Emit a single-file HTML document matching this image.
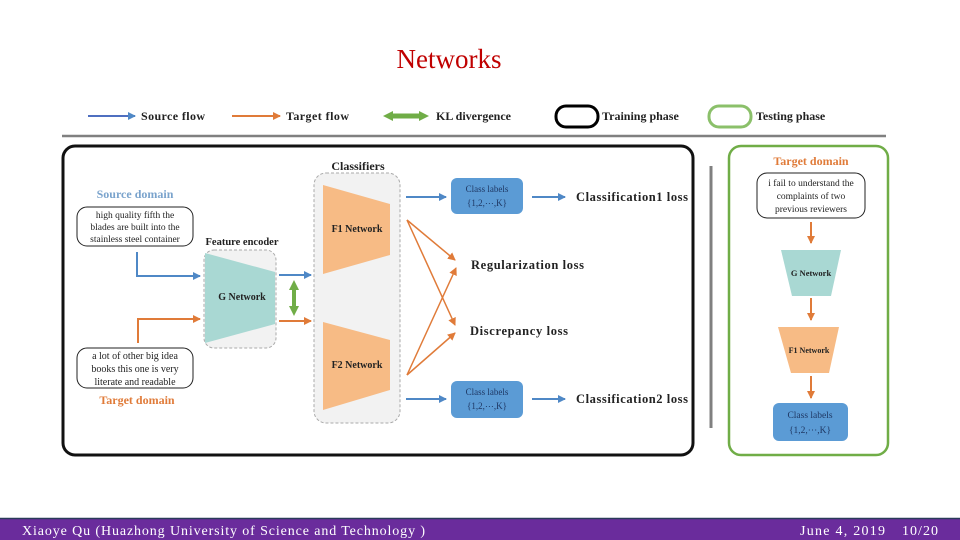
<!DOCTYPE html>
<html><head><meta charset="utf-8"><style>
html,body{margin:0;padding:0;background:#fff;}
svg{display:block;font-family:"Liberation Serif",serif;}
</style></head><body>
<svg width="960" height="540" viewBox="0 0 960 540" xmlns="http://www.w3.org/2000/svg">
<defs>
<marker id="ab" markerWidth="8" markerHeight="8" refX="7" refY="4" orient="auto" markerUnits="userSpaceOnUse"><path d="M0,0 L8,4 L0,8 z" fill="#4f88c6"/></marker>
<marker id="ao" markerWidth="8" markerHeight="8" refX="7" refY="4" orient="auto" markerUnits="userSpaceOnUse"><path d="M0,0 L8,4 L0,8 z" fill="#e07b39"/></marker>
<marker id="ag" markerWidth="10" markerHeight="10" refX="5" refY="5" orient="auto-start-reverse" markerUnits="userSpaceOnUse"><path d="M0,0 L10,5 L0,10 z" fill="#70ad47"/></marker>
</defs>
<text x="449" y="68" text-anchor="middle" font-size="27" fill="#c00000">Networks</text>

<!-- legend -->
<g font-size="12" font-weight="bold" fill="#222">
<line x1="88" y1="116" x2="135" y2="116" stroke="#4f6fc0" stroke-width="2" marker-end="url(#ab)"/>
<text x="141" y="120" textLength="64">Source flow</text>
<line x1="232" y1="116" x2="280" y2="116" stroke="#e07b39" stroke-width="2" marker-end="url(#ao)"/>
<text x="286" y="120" textLength="63">Target flow</text>
<line x1="388" y1="116" x2="424" y2="116" stroke="#70ad47" stroke-width="5" marker-end="url(#ag)" marker-start="url(#ag)"/>
<text x="436" y="120">KL divergence</text>
<rect x="556" y="106" width="42" height="21" rx="10" fill="none" stroke="#000" stroke-width="3"/>
<text x="602" y="120">Training phase</text>
<rect x="709" y="106" width="42" height="21" rx="10" fill="none" stroke="#8bc06a" stroke-width="3"/>
<text x="756" y="120">Testing phase</text>
</g>
<line x1="62" y1="136" x2="886" y2="136" stroke="#808080" stroke-width="2.5"/>

<rect x="63" y="146" width="630" height="309" rx="12" fill="none" stroke="#111" stroke-width="3"/>
<line x1="711" y1="166" x2="711" y2="428" stroke="#808080" stroke-width="3"/>
<rect x="729" y="146" width="159" height="309" rx="12" fill="none" stroke="#70ad47" stroke-width="2.5"/>

<text x="135" y="198" text-anchor="middle" font-size="12" font-weight="bold" fill="#7aa3cc">Source domain</text>
<rect x="77" y="207" width="116" height="39" rx="10" fill="#fff" stroke="#222" stroke-width="1"/>
<g font-size="9.5" fill="#222" text-anchor="middle">
<text x="135" y="218">high quality fifth  the</text>
<text x="135" y="230">blades are built into the</text>
<text x="135" y="242">stainless steel container</text>
</g>
<polyline points="137,252 137,276 200,276" fill="none" stroke="#4f88c6" stroke-width="2" marker-end="url(#ab)"/>
<polyline points="138,343 138,319 200,319" fill="none" stroke="#e07b39" stroke-width="2" marker-end="url(#ao)"/>
<rect x="77" y="348" width="116" height="40" rx="10" fill="#fff" stroke="#222" stroke-width="1"/>
<g font-size="10" fill="#222" text-anchor="middle">
<text x="135" y="359">a lot of other big idea</text>
<text x="135" y="372">books this one is very</text>
<text x="135" y="385">literate and readable</text>
</g>
<text x="137" y="404" text-anchor="middle" font-size="12" font-weight="bold" fill="#e07b39">Target domain</text>

<text x="242" y="245" text-anchor="middle" font-size="10.5" font-weight="bold" fill="#222">Feature encoder</text>
<rect x="204" y="250" width="72" height="98" rx="10" fill="#f2f2f2" stroke="#aaa" stroke-width="1" stroke-dasharray="3,2"/>
<polygon points="205,253 275,272 275,324 205,343" fill="#a9d8d3"/>
<text x="242" y="300" text-anchor="middle" font-size="10" font-weight="bold" fill="#222">G Network</text>

<line x1="279" y1="275" x2="311" y2="275" stroke="#4f88c6" stroke-width="2" marker-end="url(#ab)"/>
<line x1="279" y1="321" x2="311" y2="321" stroke="#e07b39" stroke-width="2" marker-end="url(#ao)"/>
<line x1="294" y1="285" x2="294" y2="311" stroke="#70ad47" stroke-width="4" marker-end="url(#ag)" marker-start="url(#ag)"/>

<text x="358" y="170" text-anchor="middle" font-size="12" font-weight="bold" fill="#222">Classifiers</text>
<rect x="314" y="173" width="86" height="250" rx="12" fill="#f2f2f2" stroke="#aaa" stroke-width="1" stroke-dasharray="3,2"/>
<polygon points="323,185 390,204 390,255 323,274" fill="#f7bb85"/>
<polygon points="323,322 390,340 390,390 323,410" fill="#f7bb85"/>
<text x="357" y="232" text-anchor="middle" font-size="10" font-weight="bold" fill="#222">F1 Network</text>
<text x="357" y="368" text-anchor="middle" font-size="10" font-weight="bold" fill="#222">F2 Network</text>

<line x1="406" y1="197" x2="446" y2="197" stroke="#4f88c6" stroke-width="2" marker-end="url(#ab)"/>
<rect x="451" y="178" width="72" height="36" rx="6" fill="#5b9bd5"/>
<g font-size="9" fill="#1f3864" text-anchor="middle">
<text x="487" y="192">Class labels</text><text x="487" y="206">{1,2,⋯,K}</text>
</g>
<line x1="532" y1="197" x2="565" y2="197" stroke="#4f88c6" stroke-width="2" marker-end="url(#ab)"/>
<text x="576" y="201" font-size="12.5" font-weight="bold" fill="#222" textLength="112">Classification1 loss</text>

<line x1="406" y1="399" x2="446" y2="399" stroke="#4f88c6" stroke-width="2" marker-end="url(#ab)"/>
<rect x="451" y="381" width="72" height="37" rx="6" fill="#5b9bd5"/>
<g font-size="9" fill="#1f3864" text-anchor="middle">
<text x="487" y="395">Class labels</text><text x="487" y="409">{1,2,⋯,K}</text>
</g>
<line x1="532" y1="399" x2="565" y2="399" stroke="#4f88c6" stroke-width="2" marker-end="url(#ab)"/>
<text x="576" y="403" font-size="12.5" font-weight="bold" fill="#222" textLength="112">Classification2 loss</text>

<g stroke="#e07b39" stroke-width="1.5" fill="none">
<line x1="407" y1="220" x2="455" y2="260" marker-end="url(#ao)"/>
<line x1="407" y1="220" x2="455" y2="325" marker-end="url(#ao)"/>
<line x1="407" y1="375" x2="456" y2="268" marker-end="url(#ao)"/>
<line x1="407" y1="375" x2="455" y2="333" marker-end="url(#ao)"/>
</g>
<text x="471" y="269" font-size="12.5" font-weight="bold" fill="#222" textLength="113">Regularization loss</text>
<text x="470" y="335" font-size="12.5" font-weight="bold" fill="#222" textLength="98">Discrepancy loss</text>

<text x="811" y="165" text-anchor="middle" font-size="12" font-weight="bold" fill="#e07b39">Target domain</text>
<rect x="757" y="173" width="108" height="45" rx="10" fill="#fff" stroke="#222" stroke-width="1"/>
<g font-size="9.5" fill="#222" text-anchor="middle">
<text x="811" y="186">i fail to understand the</text>
<text x="811" y="199">complaints of two</text>
<text x="811" y="212">previous reviewers</text>
</g>
<line x1="811" y1="222" x2="811" y2="243" stroke="#e07b39" stroke-width="2" marker-end="url(#ao)"/>
<polygon points="781,250 841,250 831,296 792,296" fill="#a9d8d3"/>
<text x="811" y="276" text-anchor="middle" font-size="8.5" font-weight="bold" fill="#222">G Network</text>
<line x1="811" y1="298" x2="811" y2="320" stroke="#e07b39" stroke-width="2" marker-end="url(#ao)"/>
<polygon points="778,327 839,327 829,373 791,373" fill="#f7bb85"/>
<text x="809" y="353" text-anchor="middle" font-size="8" font-weight="bold" fill="#222">F1 Network</text>
<line x1="811" y1="376" x2="811" y2="398" stroke="#e07b39" stroke-width="2" marker-end="url(#ao)"/>
<rect x="773" y="403" width="75" height="38" rx="6" fill="#5b9bd5"/>
<g font-size="9.5" fill="#1f3864" text-anchor="middle">
<text x="810" y="418">Class labels</text><text x="810" y="433">{1,2,⋯,K}</text>
</g>

<rect x="0" y="518" width="960" height="22" fill="#6a2c9c"/>
<line x1="0" y1="518.5" x2="960" y2="518.5" stroke="#2a3a5a" stroke-width="1.5"/>
<g font-size="14" fill="#fff">
<text x="22" y="535" textLength="403">Xiaoye Qu (Huazhong University of Science and Technology )</text>
<text x="800" y="535" textLength="85">June  4, 2019</text>
<text x="902" y="535" textLength="36">10/20</text>
</g>
</svg>
</body></html>
